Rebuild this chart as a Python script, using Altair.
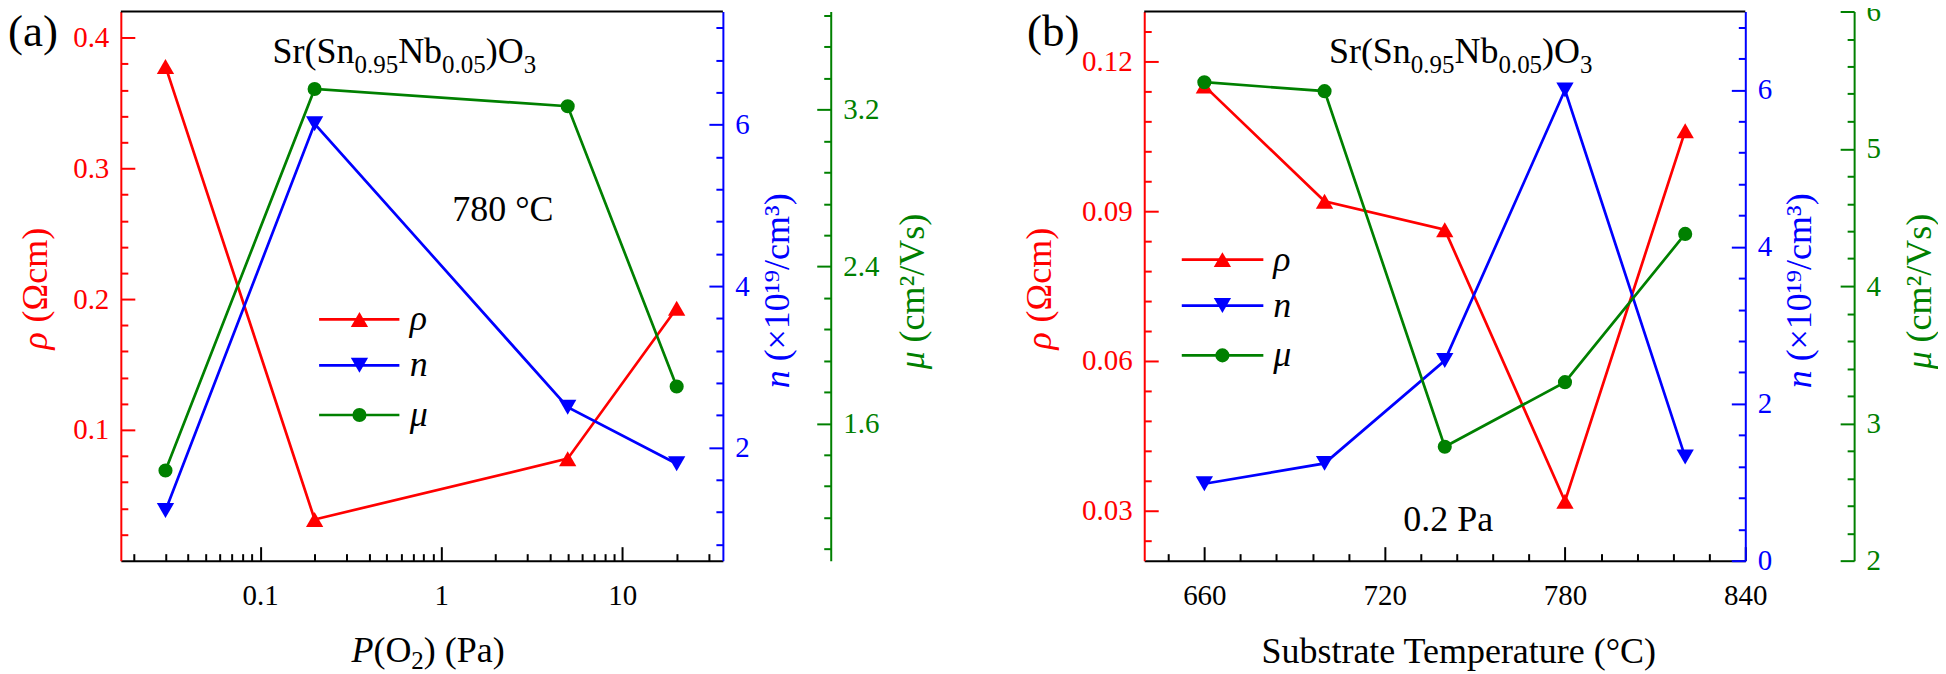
import altair as alt
import pandas as pd

FONT = "Liberation Serif"
RED, BLUE, GREEN = "#ff0000", "#0000ff", "#008000"

# ---------------- data: panel (a) ----------------
p_o2 = [0.03, 0.2, 5, 20]
rho_a = [0.378, 0.0315, 0.078, 0.193]
n_a = [1.22, 6.01, 2.50, 1.80]
mu_a = [1.36, 3.305, 3.217, 1.788]

# ---------------- data: panel (b) ----------------
t_sub = [660, 700, 740, 780, 820]
rho_b = [0.1151, 0.092, 0.0863, 0.0319, 0.1061]
n_b = [0.98, 1.24, 2.55, 6.00, 1.32]
mu_b = [5.485, 5.42, 2.83, 3.30, 4.38]

# ---------------- tick values ----------------
xa_ticks = [round(m * 10 ** e, 4) for e in (-2, -1, 0) for m in range(1, 10) if not (e == -2 and m == 1)] + [10, 20, 30]
xa_major = [0.1, 1, 10]
rho_a_ticks = [round(0.02 * i, 3) for i in range(1, 21)]
rho_a_major = [0.1, 0.2, 0.3, 0.4]
n_a_ticks = [round(0.4 * i, 2) for i in range(2, 19)]
n_a_major = [2, 4, 6]
mu_a_ticks = [round(0.96 + 0.16 * i, 2) for i in range(0, 18)]
mu_a_major = [1.6, 2.4, 3.2]

xb_ticks = list(range(648, 841, 12))
xb_major = [660, 720, 780, 840]
rho_b_ticks = [round(0.024 + 0.006 * i, 3) for i in range(0, 18)]
rho_b_major = [0.03, 0.06, 0.09, 0.12]
n_b_ticks = [round(0.4 * i, 2) for i in range(0, 18)]
n_b_major = [0, 2, 4, 6]
mu_b_ticks = [round(2 + 0.2 * i, 1) for i in range(0, 21)]
mu_b_major = [2, 3, 4, 5, 6]

Wa, Wb, H = 603, 602, 550
ONE = pd.DataFrame({"k": [0]})
TRI, CIRC = 300, 200

# Times/Liberation Serif advance widths (per 1000 em)
ADV = {"S": 556, "r": 333, "(": 333, ")": 333, "n": 500, "N": 722, "b": 500, "O": 722,
       ".": 250, " ": 250, "P": 611, "a": 444, "c": 444, "m": 778, "Ω": 768, "×": 564,
       "/": 278, "¹": 300, "⁹": 300, "³": 300, "²": 300, "V": 722, "s": 389, "ρ": 500, "μ": 500}


def advance(s, size):
    return sum(ADV.get(ch, 500) for ch in s) * size / 1000.0


def mk_axis(ticks, majors, fmt, color, orient, offset=0, gap=12):
    test = " || ".join(f"abs(datum.value - ({m})) < 1e-6" for m in majors)
    return alt.Axis(
        orient=orient, offset=offset, values=ticks, title=None, grid=False,
        labelExpr=f"({test}) ? format(datum.value, '{fmt}') : ''",
        tickSize=alt.ExprRef(expr=f"({test}) ? -14 : -7"),
        tickColor=color, tickWidth=2, domainColor=color, domainWidth=2,
        labelColor=color, labelFont=FONT, labelFontSize=29, labelPadding=14 + gap,
        labelOverlap=False, labelFlush=False)


def series(df, xenc, field, color, shape, size, domain, axis):
    y = alt.Y(f"{field}:Q", scale=alt.Scale(domain=domain, nice=False, zero=False), axis=axis)
    base = alt.Chart(df).encode(x=xenc, y=y)
    return alt.layer(
        base.mark_line(color=color, strokeWidth=2.7),
        base.mark_point(shape=shape, filled=True, color=color, size=size, opacity=1),
    )


def txt(s, x, y, size, color="black", italic=False, angle=None, align="left", baseline="alphabetic"):
    kw = dict(text=s, font=FONT, fontSize=size, color=color, align=align, baseline=baseline)
    if italic:
        kw["fontStyle"] = "italic"
    if angle is not None:
        kw["angle"] = angle
    return alt.Chart(ONE).mark_text(**kw).encode(x=alt.value(x), y=alt.value(y))


def rich(pieces, x0, y0, color="black"):
    out, x = [], x0
    for text, size, italic, dy in pieces:
        shown = text.lstrip(" ")
        x_shown = x + advance(text[: len(text) - len(shown)], size)
        out.append(txt(shown, x_shown, y0 + dy, size, color, italic))
        x += advance(text, size)
    return out


def rich_vertical(pieces, x0, y0, color):
    out, y = [], y0
    for text, size, italic in pieces:
        shown = text.lstrip(" ")
        y_shown = y - advance(text[: len(text) - len(shown)], size)
        out.append(txt(shown, x0, y_shown, size, color, italic, angle=270))
        y -= advance(text, size)
    return out


def legend(rows_y, x1, x2, xm, xl):
    specs = [("ρ", RED, "triangle-up", TRI), ("n", BLUE, "triangle-down", TRI), ("μ", GREEN, "circle", CIRC)]
    out = []
    for (label, color, shape, size), y in zip(specs, rows_y):
        out.append(alt.Chart(ONE).mark_rule(color=color, strokeWidth=2.7).encode(
            x=alt.value(x1), x2=alt.value(x2), y=alt.value(y)))
        out.append(alt.Chart(ONE).mark_point(shape=shape, filled=True, color=color, size=size, opacity=1).encode(
            x=alt.value(xm), y=alt.value(y)))
        out.append(txt(label, xl, y + 11, 36, "black", italic=True))
    return out


def top_border(W):
    return alt.Chart(ONE).mark_rule(color="black", strokeWidth=2).encode(
        x=alt.value(0), x2=alt.value(W), y=alt.value(0))


formula = [("Sr(Sn", 36, False, 0), ("0.95", 25, False, 10), ("Nb", 36, False, 0),
           ("0.05", 25, False, 10), (")O", 36, False, 0), ("3", 25, False, 10)]

# ---------------- panel (a) ----------------
df_a = pd.DataFrame({"x": p_o2, "rho": rho_a, "n": n_a, "mu": mu_a})
xa = alt.X("x:Q", scale=alt.Scale(type="log", domain=[0.017, 36], nice=False),
           axis=mk_axis(xa_ticks, xa_major, "~g", "black", "bottom", gap=21))
layers_a = [
    series(df_a, xa, "rho", RED, "triangle-up", TRI, [0, 0.42],
           mk_axis(rho_a_ticks, rho_a_major, ".1f", RED, "left")),
    series(df_a, xa, "n", BLUE, "triangle-down", TRI, [0.6, 7.4],
           mk_axis(n_a_ticks, n_a_major, "d", BLUE, "right")),
    series(df_a, xa, "mu", GREEN, "circle", CIRC, [0.9, 3.7],
           mk_axis(mu_a_ticks, mu_a_major, ".1f", GREEN, "right", offset=108)),
    top_border(Wa),
    txt("(a)", -113, 35, 45),
    txt("780 °C", 332, 210, 36),
]
layers_a += rich(formula, 152, 51.5)
layers_a += legend([308.4, 354.4, 404.1], 198.6, 279, 239, 289.3)
layers_a += rich([("P", 36, True, 0), ("(O", 36, False, 0), ("2", 25, False, 7), (") (Pa)", 36, False, 0)], 231, 651.7)
layers_a += rich_vertical([("ρ", 36, True), (" (Ωcm)", 36, False)], -74, 338.4, RED)
layers_a += rich_vertical([("n", 36, True), (" (×10¹⁹/cm³)", 36, False)], Wa + 66, 377.4, BLUE)
layers_a += rich_vertical([("μ", 36, True), (" (cm²/Vs)", 36, False)], Wa + 201, 358.4, GREEN)

panel_a = alt.layer(*layers_a).resolve_scale(y="independent").properties(width=Wa, height=H)

# ---------------- panel (b) ----------------
df_b = pd.DataFrame({"x": t_sub, "rho": rho_b, "n": n_b, "mu": mu_b})
xb = alt.X("x:Q", scale=alt.Scale(domain=[640, 840], nice=False, zero=False),
           axis=mk_axis(xb_ticks, xb_major, "d", "black", "bottom", gap=21))
layers_b = [
    series(df_b, xb, "rho", RED, "triangle-up", TRI, [0.02, 0.13],
           mk_axis(rho_b_ticks, rho_b_major, ".2f", RED, "left")),
    series(df_b, xb, "n", BLUE, "triangle-down", TRI, [0, 7],
           mk_axis(n_b_ticks, n_b_major, "d", BLUE, "right")),
    series(df_b, xb, "mu", GREEN, "circle", CIRC, [2, 6],
           mk_axis(mu_b_ticks, mu_b_major, "d", GREEN, "right", offset=109)),
    top_border(Wb),
    txt("(b)", -117.4, 35, 45),
    txt("0.2 Pa", 259.5, 520.6, 36),
    txt("Substrate Temperature (°C)", 315, 652.4, 36, align="center"),
]
layers_b += rich(formula, 185, 51.5)
layers_b += legend([248.5, 294.5, 344.4], 37.6, 119.3, 78.3, 129.3)
layers_b += rich_vertical([("ρ", 36, True), (" (Ωcm)", 36, False)], -93.8, 338.4, RED)
layers_b += rich_vertical([("n", 36, True), (" (×10¹⁹/cm³)", 36, False)], Wb + 66, 377.4, BLUE)
layers_b += rich_vertical([("μ", 36, True), (" (cm²/Vs)", 36, False)], Wb + 186, 358.4, GREEN)

panel_b = alt.layer(*layers_b).resolve_scale(y="independent").properties(width=Wb, height=H)

chart = (
    alt.hconcat(panel_a, panel_b, spacing=422, bounds="flush")
    .properties(padding={"left": 0, "top": -11, "right": 0, "bottom": 0})
    .configure_view(strokeOpacity=0)
)

chart.save("out.html", embed_options={"renderer": "svg", "actions": False})
